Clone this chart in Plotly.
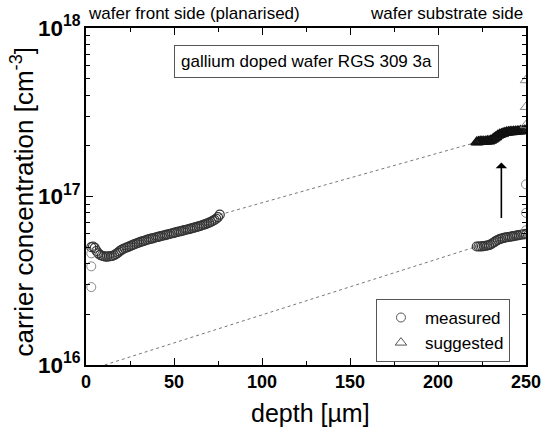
import plotly.graph_objects as go
import numpy as np

# ---- data ----
front_depth = list(range(3, 77))
front_conc = [5.0, 5.05, 4.95, 4.75, 4.6, 4.5, 4.45, 4.42, 4.4, 4.4, 4.41, 4.42, 4.44, 4.48,
              4.55, 4.63, 4.72, 4.8, 4.87, 4.93, 4.98, 5.03, 5.08, 5.13, 5.18, 5.23, 5.28,
              5.33, 5.38, 5.42, 5.46, 5.5, 5.54, 5.58, 5.62, 5.65, 5.69, 5.73, 5.76, 5.8,
              5.83, 5.87, 5.9, 5.94, 5.97, 6.01, 6.05, 6.08, 6.12, 6.16, 6.2, 6.23, 6.27,
              6.31, 6.35, 6.39, 6.43, 6.47, 6.51, 6.55, 6.6, 6.65, 6.7, 6.75, 6.8, 6.86,
              6.93, 7.0, 7.08, 7.16, 7.26, 7.38, 7.55, 7.8]  # x1e16
front_outlier_depth = [3, 3, 3]
front_outlier_conc = [4.6, 3.85, 2.9]  # x1e16

back_depth = list(range(222, 251))
back_conc = [5.05, 5.05, 5.05, 5.06, 5.08, 5.1, 5.12, 5.15, 5.2, 5.28, 5.36, 5.45, 5.52,
             5.58, 5.63, 5.67, 5.7, 5.73, 5.75, 5.77, 5.8, 5.82, 5.85, 5.88, 5.9, 5.93,
             5.95, 5.97, 6.0]  # x1e16
back_outlier_depth = [250, 250, 250]
back_outlier_conc = [6.3, 8.0, 11.8]  # x1e16

sugg_depth = list(range(222, 251))
sugg_conc = [2.10, 2.11, 2.12, 2.12, 2.12, 2.12, 2.13, 2.13, 2.15, 2.18, 2.22, 2.26, 2.3,
             2.33, 2.35, 2.37, 2.39, 2.4, 2.41, 2.42, 2.42, 2.43, 2.43, 2.44, 2.44, 2.45,
             2.45, 2.46, 2.46]  # x1e17
sugg_outlier_depth = [250, 250, 250]
sugg_outlier_conc = [2.65, 3.4, 4.9]  # x1e17

lower_line_depth = [10.6, 222]
lower_line_conc = [1.0e16, 5.05e16]
upper_line_depth = [76, 222]
upper_line_conc = [7.8e16, 2.1e17]

arrow_depth = 236
arrow_from = 7.3e16
arrow_to = 1.59e17

FONT = "Arial, Liberation Sans, sans-serif"
MCOL = "#333333"

fig = go.Figure()

fig.add_trace(go.Scatter(x=lower_line_depth, y=lower_line_conc, mode="lines",
                         line=dict(color="#777", width=1, dash="dot"), showlegend=False))
fig.add_trace(go.Scatter(x=upper_line_depth, y=upper_line_conc, mode="lines",
                         line=dict(color="#777", width=1, dash="dot"), showlegend=False))

circ = dict(symbol="circle-open", size=9, color=MCOL, line=dict(width=1.2, color=MCOL))
tri = dict(symbol="triangle-up-open", size=10, color="#111", line=dict(width=1.6, color="#111"))
circ_lg = dict(symbol="circle-open", size=9, color="#555", line=dict(width=1, color="#555"))
tri_lg = dict(symbol="triangle-up-open", size=10, color="#555", line=dict(width=1, color="#555"))

fig.add_trace(go.Scatter(x=front_depth, y=[v * 1e16 for v in front_conc], mode="markers",
                         marker=circ, showlegend=False))
fig.add_trace(go.Scatter(x=front_outlier_depth, y=[v * 1e16 for v in front_outlier_conc],
                         mode="markers", marker=dict(circ, color="#888", line=dict(width=1, color="#888")),
                         showlegend=False))
fig.add_trace(go.Scatter(x=back_depth, y=[v * 1e16 for v in back_conc], mode="markers",
                         marker=circ, showlegend=False))
fig.add_trace(go.Scatter(x=back_outlier_depth, y=[v * 1e16 for v in back_outlier_conc],
                         mode="markers", marker=dict(circ, color="#888", line=dict(width=1, color="#888")),
                         showlegend=False))
fig.add_trace(go.Scatter(x=sugg_depth, y=[v * 1e17 for v in sugg_conc], mode="markers",
                         marker=tri, showlegend=False))
fig.add_trace(go.Scatter(x=sugg_outlier_depth, y=[v * 1e17 for v in sugg_outlier_conc],
                         mode="markers", marker=dict(tri, color="#888", line=dict(width=1, color="#888")),
                         showlegend=False))
# legend-only entries
fig.add_trace(go.Scatter(x=[None], y=[None], mode="markers", marker=circ_lg, name="measured"))
fig.add_trace(go.Scatter(x=[None], y=[None], mode="markers", marker=tri_lg, name="suggested"))

axis_common = dict(showline=True, linecolor="black", linewidth=1.5, mirror="allticks",
                   ticks="inside", tickcolor="black", tickwidth=1.2, showgrid=False,
                   zeroline=False, tickfont=dict(family=FONT, size=18, color="black", weight="bold"))

fig.update_xaxes(range=[0, 250], dtick=50, tick0=0, ticklen=7,
                 minor=dict(ticks="inside", ticklen=4, dtick=25, tickcolor="black", showgrid=False),
                 **axis_common)
fig.update_yaxes(type="log", range=[16, 18], dtick=1, ticklen=7, exponentformat="power",
                 minor=dict(ticks="inside", ticklen=4, dtick="D1", tickcolor="black", showgrid=False),
                 **axis_common)

fig.update_layout(
    width=553, height=428,
    margin=dict(l=86, r=18, t=28, b=63),
    paper_bgcolor="white", plot_bgcolor="white",
    font=dict(family=FONT, color="black"),
    legend=dict(x=0.659, y=0.196, xanchor="left", yanchor="top",
                bordercolor="#555", borderwidth=1, bgcolor="white",
                font=dict(family=FONT, size=17), itemwidth=38, tracegroupgap=0),
    annotations=[
        dict(text="carrier concentration [cm<sup>-3</sup>]", xref="paper", yref="paper",
             x=0, y=0.5, xshift=-63, yshift=-5, textangle=-90, showarrow=False,
             font=dict(family=FONT, size=26), xanchor="center", yanchor="middle"),
        dict(text="depth [µm]", xref="paper", yref="paper", x=0.5, y=0, yshift=-48, xshift=4,
             showarrow=False, font=dict(family=FONT, size=25), xanchor="center", yanchor="middle"),
        dict(text="wafer front side (planarised)", xref="paper", yref="paper", x=0, y=1,
             yshift=15, showarrow=False, font=dict(family=FONT, size=17),
             xanchor="left", yanchor="middle"),
        dict(text="wafer substrate side", xref="paper", yref="paper", x=1, y=1,
             yshift=15, xshift=-1, showarrow=False, font=dict(family=FONT, size=17),
             xanchor="right", yanchor="middle"),
        dict(text="gallium doped wafer RGS 309 3a", xref="paper", yref="paper", x=0.5, y=1,
             yshift=-33, showarrow=False, font=dict(family=FONT, size=17),
             xanchor="center", yanchor="middle", bordercolor="#555", borderwidth=1,
             borderpad=6, bgcolor="white"),
        dict(x=arrow_depth, y=np.log10(arrow_to), ax=arrow_depth, ay=np.log10(arrow_from),
             xref="x", yref="y", axref="x", ayref="y", showarrow=True, arrowhead=1,
             arrowsize=1.2, arrowwidth=1.6, arrowcolor="black", text=""),
    ],
)

fig.write_html("out.html")
